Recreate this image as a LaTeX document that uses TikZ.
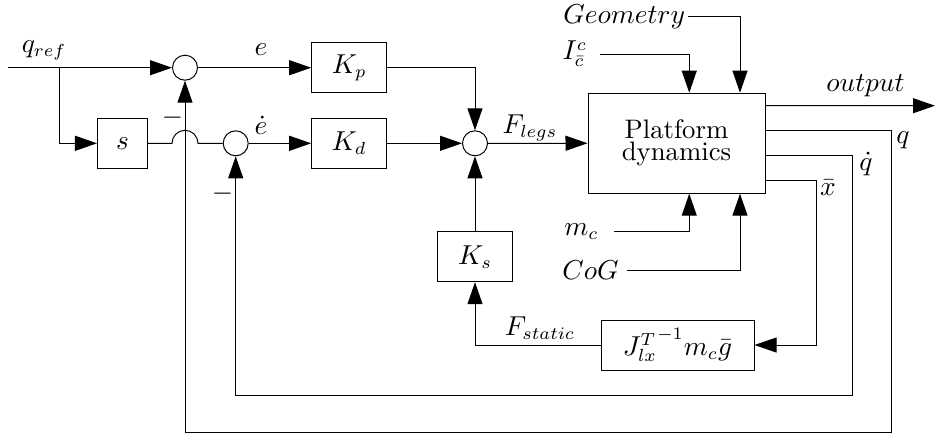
\documentclass[tikz,border=0pt]{standalone}
\usepackage{amsmath,amssymb}
\usepackage{tikz}
\usetikzlibrary{positioning, arrows.meta, calc}

\begin{document}
\begin{tikzpicture}[x=0.4pt, y=-0.4pt, line width=0.4pt,
    every node/.style={font=\fontsize{10.7pt}{12.8pt}\selectfont},
    blk/.style={draw, minimum height=20pt, minimum width=30pt, inner sep=1pt},
    sumnode/.style={draw, circle, minimum size=10pt, inner sep=0pt},
    sig/.style={-{Triangle[length=8.8pt, width=6pt]}},
    lbl/.style={inner sep=1pt},
    inlbl/.style={anchor=east, inner ysep=1pt}]
  \useasboundingbox (0,0) rectangle (935,435);

  \node[sumnode] (sum1) at (185,67.7) {};
  \node[blk, minimum width=20pt] (ds) at (122.5,143.3) {$s$};
  \node[sumnode] (sum2) at (235.7,143.3) {};
  \node[blk] (kp) at (349.2,67.7) {$K_p$};
  \node[blk] (kd) at (349.2,143.3) {$K_d$};
  \node[sumnode] (sum3) at (475,143.3) {};
  \node[blk] (ks) at (475,256.7) {$K_s$};
  \node[blk, minimum width=70.8pt, minimum height=40pt, align=center] (plant) at (676.5,143.2)
    {Platform\\[-4pt]dynamics};
  \node[blk, minimum width=61.2pt] (jinv) at (677.5,345) {${J_{lx}^{T}}^{-1}m_c\bar{g}$};

  \coordinate (qin) at (8,67.7);
  \coordinate (qbr) at (59.3,67.7);
  \coordinate (outend) at (935,105.7);
  \coordinate (qcorner) at (891.7,432.7);
  \coordinate (qdcorner) at (852.7,395);
  \coordinate (xbcorner) at (816,345);

  \node[lbl] (lqref) at (44,50) {$q_{ref}$};
  \node[lbl] (le) at (261,50) {$e$};
  \node[lbl] (led) at (261,125) {$\dot{e}$};
  \node[lbl] (minus1) at (172.5,117.3) {$-$};
  \node[lbl] (minus2) at (222.5,193.3) {$-$};
  \node[lbl] (lflegs) at (530,128) {$F_{legs}$};
  \node[lbl] (lfstatic) at (540,328) {$F_{static}$};
  \node[lbl] (lout) at (865.5,86) {$output$};
  \node[lbl] (lq) at (903,140) {$q$};
  \node[lbl] (lqd) at (866,164) {$\dot{q}$};
  \node[lbl] (lxb) at (828,187.5) {$\bar{x}$};
  \node[inlbl, inner xsep=1pt] (lgeo) at (688,16.7) {$Geometry$};
  \node[inlbl, inner xsep=5pt] (licc) at (600,54) {$I^c_{\bar{c}}$};
  \node[inlbl, inner xsep=6pt] (lmc) at (614,231.7) {$m_c$};
  \node[inlbl, inner xsep=3pt] (lcog) at (626.7,270) {$CoG$};

  \draw[sig] (qin) -- (sum1);
  \draw[sig] (qbr) |- (ds);
  \draw[sig] (sum1) -- (kp);
  \draw (ds.east) -- ($(sum1 |- ds)+(-13,0)$) arc[start angle=180, end angle=0, radius=5.2pt] -- (sum2.west);
  \draw[sig] (sum2) -- (kd);
  \draw[sig] (kp.east) -| (sum3.north);
  \draw[sig] (kd) -- (sum3);
  \draw[sig] (ks) -- (sum3);
  \draw[sig] (sum3) -- (plant);
  \draw[sig] (jinv.west) -| (ks.south);

  \draw[sig] (lgeo.east) -| ([xshift=25.4pt]plant.north);
  \draw[sig] (licc.east) -| ([xshift=5.1pt]plant.north);
  \draw[sig] (lmc.east) -| ([xshift=5.1pt]plant.south);
  \draw[sig] (lcog.east) -| ([xshift=25.4pt]plant.south);

  \draw[sig] ([yshift=15pt]plant.east) -- (outend);
  \draw[sig] ([yshift=5pt]plant.east) -| (qcorner) -| (sum1.south);
  \draw[sig] ([yshift=-5pt]plant.east) -| (qdcorner) -| (sum2.south);
  \draw[sig] ([yshift=-15pt]plant.east) -| (xbcorner) -- (jinv.east);
\end{tikzpicture}
\end{document}
